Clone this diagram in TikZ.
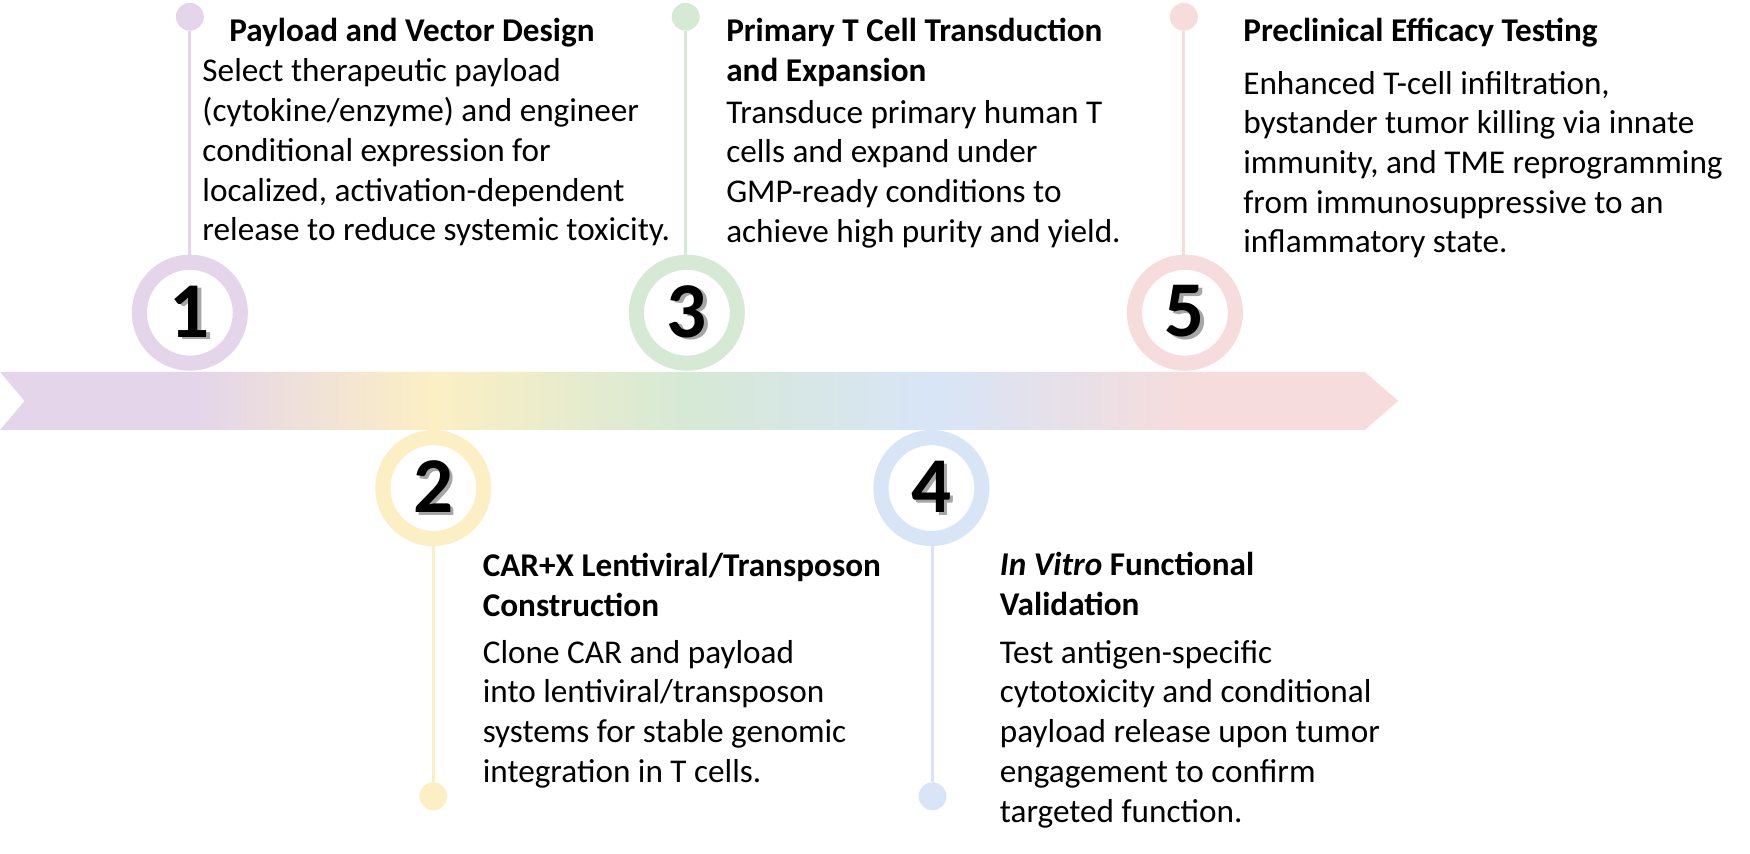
\documentclass[tikz,border=0pt]{standalone}
\usepackage{fontspec}
\setmainfont{Carlito}
\usetikzlibrary{positioning}

\definecolor{lav}{HTML}{E4D5EA}
\definecolor{ylw}{HTML}{FCEFC4}
\definecolor{grn}{HTML}{D6E9D5}
\definecolor{blu}{HTML}{D7E5F7}
\definecolor{pnk}{HTML}{F6DCDC}

\pgfdeclarehorizontalshading{bandshade}{100bp}{color(0bp)=(lav); color(25bp)=(lav); color(32bp)=(lav);
  color(40.5bp)=(ylw); color(49.5bp)=(grn); color(58.3bp)=(blu); color(67.5bp)=(pnk); color(100bp)=(pnk)}

\newcommand{\shnum}[1]{\makebox[0pt][l]{\kern2pt\raisebox{-1.5pt}{\color{black!35}#1}}#1}

\begin{document}
\begin{tikzpicture}[x=0.022336cm, y=-0.022336cm,
		main node/.style={circle,draw=#1,line width=8.6pt,minimum size=2.02cm,inner sep=0pt,fill=white,font=\fontsize{45}{45}\selectfont\bfseries},
		dot node/.style={circle,fill=#1,minimum size=0.56cm,inner sep=0pt},
		stem/.style={draw=#1,line width=1.6pt},
		title node/.style={anchor=north west,inner sep=0pt,align=left,font=\fontsize{18.9}{22.6}\selectfont\bfseries},
		body node/.style={anchor=north west,inner sep=0pt,align=left,font=\fontsize{18.9}{22.6}\selectfont}]
	
	\useasboundingbox (0,0) rectangle (1567,764);
	
	% timeline band
	\shade[shading=bandshade] (0,333) -- (1222,333) -- (1252,359) -- (1222,385) -- (0,385) -- (22,359) -- cycle;
	
	\node[dot node=lav] (d1) at (170,15) {};
	\node[dot node=ylw] (d2) at (388,713) {};
	\node[dot node=grn] (d3) at (614,15) {};
	\node[dot node=blu] (d4) at (835,713) {};
	\node[dot node=pnk] (d5) at (1060,15) {};
	
	\path
	(d1) edge[stem=lav] (170,240)
	(d2) edge[stem=ylw] (388,480)
	(d3) edge[stem=grn] (614,240)
	(d4) edge[stem=blu] (835,480)
	(d5) edge[stem=pnk] (1060,240)
	;
	
	\node[main node=lav] (1) at (170,280) {\shnum{1}};
	\node[main node=ylw] (2) at (388,437) {\shnum{2}};
	\node[main node=grn] (3) at (615,280) {\shnum{3}};
	\node[main node=blu] (4) at (834,437) {\shnum{4}};
	\node[main node=pnk] (5) at (1061,280) {\shnum{5}};
	
	% step texts (\strut on the first line fixes the top)
	\node[title node] (h1) at (205,12.1) {\strut Payload and Vector Design};
	\node[body node] (t1) at (181,48.1) {\strut Select therapeutic payload\\(cytokine/enzyme) and engineer\\conditional expression for\\localized, activation-dependent\\release to reduce systemic toxicity.};
	
	\node[title node] (h3) at (650,12.1) {\strut Primary T Cell Transduction\\and Expansion};
	\node[body node] (t3) at (650,85.1) {\strut Transduce primary human T\\cells and expand under\\GMP-ready conditions to\\achieve high purity and yield.};
	
	\node[title node] (h5) at (1113,12.1) {\strut Preclinical Efficacy Testing};
	\node[body node] (t5) at (1113,59.1) {\strut Enhanced T-cell infiltration,\\bystander tumor killing via innate\\immunity, and TME reprogramming\\from immunosuppressive to an\\inflammatory state.};
	
	\node[title node] (h2) at (432,491.1) {\strut CAR+X Lentiviral/Transposon\\Construction};
	\node[body node] (t2) at (432,568.7) {\strut Clone CAR and payload\\into lentiviral/transposon\\systems for stable genomic\\integration in T cells.};
	
	\node[title node] (h4) at (895,490.1) {\strut\textit{In Vitro} Functional\\Validation};
	\node[body node] (t4) at (895,568.7) {\strut Test antigen-specific\\cytotoxicity and conditional\\payload release upon tumor\\engagement to confirm\\targeted function.};
	
\end{tikzpicture}
\end{document}
